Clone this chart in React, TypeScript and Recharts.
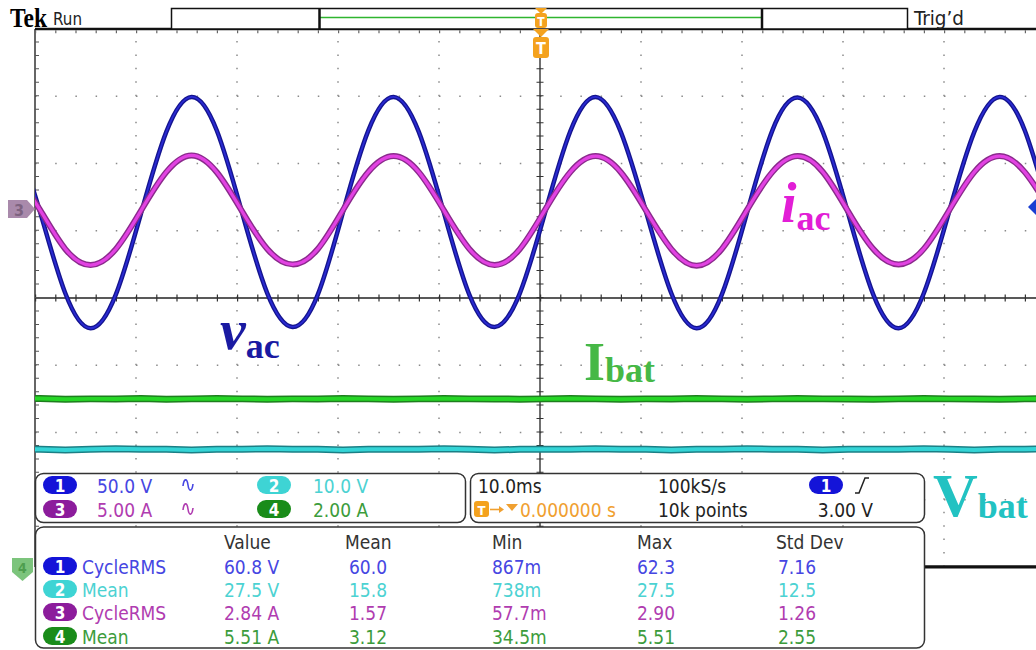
import { LineChart, Line, XAxis, YAxis, ReferenceLine } from "recharts";

// samples every 2.5 ms across the 100 ms screen (10 ms/div)
const timeMs = [
  -52, -49.5, -47, -44.5, -42, -39.5, -37, -34.5, -32, -29.5, -27, -24.5, -22, -19.5, -17, -14.5,
  -12, -9.5, -7, -4.5, -2, 0.5, 3, 5.5, 8, 10.5, 13, 15.5, 18, 20.5, 23, 25.5, 28, 30.5, 33, 35.5,
  38, 40.5, 43, 45.5, 48, 50.5, 53,
];

// ch1 vac (V)
const vac = [
  60, 0.5, -60, -86, -61, -0.5, 60, 86, 61, 0, -60, -85, -61, 0.5, 61, 86, 60, -0.5, -61, -85, -60,
  0, 60.5, 86, 60, 0.5, -60, -86, -61, 0, 61, 85.5, 60, -0.5, -61, -86, -60, 0.5, 60, 86, 61, 0, -60,
];

// ch3 iac (A)
const iac = [
  2.85, 0.05, -2.86, -4.05, -2.87, 0, 2.86, 4.1, 2.85, -0.05, -2.86, -4.0, -2.86, 0.05, 2.87, 4.05,
  2.86, 0, -2.85, -4.05, -2.86, 0.05, 2.86, 4.05, 2.85, 0, -2.86, -4.1, -2.86, 0.05, 2.86, 4.05,
  2.87, -0.05, -2.86, -4.0, -2.85, 0, 2.86, 4.05, 2.86, 0.05, -2.86,
];

// ch4 Ibat (A)
const ibat = [
  5.51, 5.52, 5.5, 5.51, 5.51, 5.52, 5.5, 5.51, 5.52, 5.51, 5.5, 5.51, 5.51, 5.52, 5.51, 5.5, 5.51,
  5.52, 5.51, 5.51, 5.5, 5.51, 5.52, 5.51, 5.5, 5.51, 5.51, 5.52, 5.51, 5.5, 5.51, 5.52, 5.51, 5.51,
  5.5, 5.51, 5.52, 5.51, 5.51, 5.5, 5.51, 5.52, 5.51,
];

// ch2 Vbat (V)
const vbat = [
  27.5, 27.5, 27.4, 27.5, 27.6, 27.5, 27.5, 27.4, 27.5, 27.5, 27.6, 27.5, 27.5, 27.4, 27.5, 27.5,
  27.5, 27.6, 27.5, 27.4, 27.5, 27.5, 27.5, 27.6, 27.5, 27.5, 27.4, 27.5, 27.5, 27.6, 27.5, 27.5,
  27.4, 27.5, 27.5, 27.5, 27.6, 27.5, 27.4, 27.5, 27.5, 27.6, 27.5,
];

// scale (units/div) and trace position (div from centre)
const ch1 = { perDiv: 50, offset: 1.27 };
const ch2 = { perDiv: 10, offset: -5.0 };
const ch3 = { perDiv: 5, offset: 1.3 };
const ch4 = { perDiv: 2, offset: -4.255 };

const data = timeMs.map((t, i) => ({
  t,
  v1: vac[i] / ch1.perDiv + ch1.offset,
  v3: iac[i] / ch3.perDiv + ch3.offset,
  v4: ibat[i] / ch4.perDiv + ch4.offset,
  v2: vbat[i] / ch2.perDiv + ch2.offset,
}));

const gridX = [-40, -30, -20, -10, 10, 20, 30, 40];
const gridY = [-3, -2, -1, 1, 2, 3];

// readouts
const measNames = ["CycleRMS", "Mean", "CycleRMS", "Mean"];
const measValue = ["60.8 V", "27.5 V", "2.84 A", "5.51 A"];
const measMean = ["60.0", "15.8", "1.57", "3.12"];
const measMin = ["867m", "738m", "57.7m", "34.5m"];
const measMax = ["62.3", "27.5", "2.90", "5.51"];
const measStd = ["7.16", "12.5", "1.26", "2.55"];
const measChan = ["1", "2", "3", "4"];

const FONT = "'DejaVu Sans Condensed', 'Liberation Sans Narrow', 'Open Sans', sans-serif";
const SERIF = "'Liberation Serif', 'DejaVu Serif', serif";

const pillFill: Record<string, string> = { "1": "#1414d8", "2": "#3ed4d4", "3": "#8c1c9c", "4": "#1a8c1a" };
const textFill: Record<string, string> = { "1": "#4646e2", "2": "#4cd2d2", "3": "#b03cb0", "4": "#3c9c3c" };

function Pill({ x, cy, ch }: { x: number; cy: number; ch: string }) {
  return (
    <g>
      <rect x={x} y={cy - 9} width={34} height={18} rx={9} fill={pillFill[ch]} />
      <text x={x + 17} y={cy + 1} fill="#fff" fontFamily={FONT} fontSize={17} fontWeight="bold" textAnchor="middle" dominantBaseline="central">
        {ch}
      </text>
    </g>
  );
}

function T({ x, y, w, h, fs }: { x: number; y: number; w: number; h: number; fs: number }) {
  return (
    <g>
      <rect x={x} y={y} width={w} height={h} rx={3} fill="#f4a21e" />
      <text x={x + w / 2} y={y + h / 2 + 1} fill="#fff" fontFamily={FONT} fontWeight="bold" fontSize={fs} textAnchor="middle" dominantBaseline="central">
        T
      </text>
    </g>
  );
}

function Wave({ x, y, color }: { x: number; y: number; color: string }) {
  return <path d={`M${x} ${y + 1} C${x + 1} ${y - 7} ${x + 4} ${y - 7} ${x + 5} ${y} S${x + 9} ${y + 7} ${x + 10} ${y - 1}`} fill="none" stroke={color} strokeWidth={1.6} />;
}

function Overlay() {
  const rowsY = [566, 589, 612, 636];
  return (
    <svg width={1036} height={650} style={{ position: "absolute", left: 0, top: 0, pointerEvents: "none" }}>
      {/* header */}
      <text x={10} y={27} fontFamily={SERIF} fontWeight="bold" fontSize={27} textLength={37} lengthAdjust="spacingAndGlyphs">Tek</text>
      <text x={53} y={25} fontFamily={FONT} fontSize={18} fill="#222" textLength={29} lengthAdjust="spacingAndGlyphs">Run</text>
      <rect x={171.5} y={8.5} width={736} height={20.5} fill="#fff" stroke="#111" strokeWidth={1.5} />
      <line x1={320} x2={762} y1={17.5} y2={17.5} stroke="#2fb52f" strokeWidth={1.5} />
      <line x1={319.5} x2={319.5} y1={9} y2={29} stroke="#111" strokeWidth={2.5} />
      <line x1={762} x2={762} y1={9} y2={29} stroke="#111" strokeWidth={2.5} />
      <text x={914} y={25} fontFamily={FONT} fontSize={19} fill="#222" textLength={50} lengthAdjust="spacingAndGlyphs">Trig’d</text>
      <polygon points="535,8 547,8 541,14" fill="#f4a21e" />
      <T x={535} y={13} w={12} h={15} fs={12} />
      <polygon points="533,29 549,29 541,37" fill="#f4a21e" />
      <T x={533} y={37} w={16} h={21} fs={16} />

      {/* channel markers */}
      <polygon points="8,200 27,200 35,209 27,218 8,218" fill="#a98aab" />
      <text x={19} y={210} fill="#7d6380" fontFamily={FONT} fontSize={16} fontWeight="bold" textAnchor="middle" dominantBaseline="central">3</text>
      <polygon points="1028,207 1036,199 1044,207 1036,215" fill="#1a3ed2" />

      {/* trace labels */}
      <text x={220} y={349} fill="#1a1aa2" fontFamily={SERIF} fontWeight="bold">
        <tspan fontStyle="italic" fontSize={58}>v</tspan>
        <tspan fontSize={36} dy={9}>ac</tspan>
      </text>
      <text x={781} y={222} fill="#e21ed6" fontFamily={SERIF} fontWeight="bold">
        <tspan fontStyle="italic" fontSize={56}>i</tspan>
        <tspan fontSize={36} dy={8}>ac</tspan>
      </text>
      <text x={584} y={380} fill="#46b846" fontFamily={SERIF} fontWeight="bold">
        <tspan fontSize={54}>I</tspan>
        <tspan fontSize={36} dy={2}>bat</tspan>
      </text>

      {/* lower-right corner of the graticule */}
      <rect x={925} y={567} width={111} height={83} fill="#fff" />
      <line x1={925} x2={1036} y1={567} y2={567} stroke="#111" strokeWidth={3} />
      <text x={933} y={516} fill="#22c2c2" fontFamily={SERIF} fontWeight="bold">
        <tspan fontSize={62}>V</tspan>
        <tspan fontSize={36} dy={2}>bat</tspan>
      </text>
      <polygon points="12,558 33,558 33,572 22.5,581 12,572" fill="#7cc47c" />
      <text x={22.5} y={568} fill="#4e9e4e" fontFamily={FONT} fontSize={14} fontWeight="bold" textAnchor="middle" dominantBaseline="central">4</text>

      {/* channel scale box */}
      <rect x={35.5} y={473.5} width={430} height={49} rx={8} fill="#fff" stroke="#333" strokeWidth={1.5} />
      <Pill x={43} cy={485} ch="1" />
      <Pill x={43} cy={509} ch="3" />
      <Pill x={257} cy={485} ch="2" />
      <Pill x={257} cy={509} ch="4" />
      <g fontFamily={FONT} fontSize={19} dominantBaseline="central">
        <text x={97} y={486} fill={textFill["1"]}>50.0 V</text>
        <text x={97} y={510} fill={textFill["3"]}>5.00 A</text>
        <text x={313} y={486} fill={textFill["2"]}>10.0 V</text>
        <text x={313} y={510} fill={textFill["4"]}>2.00 A</text>
      </g>
      <Wave x={183} y={485} color={textFill["1"]} />
      <Wave x={183} y={509} color={textFill["3"]} />

      {/* timebase / trigger box */}
      <rect x={470.5} y={473.5} width={454} height={49} rx={8} fill="#fff" stroke="#333" strokeWidth={1.5} />
      <g fontFamily={FONT} fontSize={19} dominantBaseline="central" fill="#222">
        <text x={478} y={486}>10.0ms</text>
        <text x={658} y={486}>100kS/s</text>
        <text x={658} y={510}>10k points</text>
        <text x={873} y={510} textAnchor="end">3.00 V</text>
        <text x={520} y={510} fill="#f0a030">0.000000 s</text>
      </g>
      <T x={474} y={501} w={15} h={16} fs={13} />
      <path d="M490 509.5 L501 509.5" stroke="#f0a030" strokeWidth={1.6} />
      <polygon points="499,506 504,509.5 499,513" fill="#f0a030" />
      <polygon points="506,504 518,504 512,511" fill="#f0a030" />
      <Pill x={809} cy={485} ch="1" />
      <path d="M855 493 L859 493 L865 478 L869 478" fill="none" stroke="#222" strokeWidth={1.5} />

      {/* measurement box */}
      <rect x={35.5} y={527} width={889} height={121} rx={8} fill="#fff" stroke="#333" strokeWidth={1.5} />
      <g fontFamily={FONT} fontSize={19} dominantBaseline="central" fill="#333">
        <text x={224} y={542}>Value</text>
        <text x={345} y={542}>Mean</text>
        <text x={492} y={542}>Min</text>
        <text x={637} y={542}>Max</text>
        <text x={776} y={542}>Std Dev</text>
      </g>
      {measChan.map((ch, i) => (
        <g key={ch}>
          <Pill x={43} cy={rowsY[i]} ch={ch} />
          <g fontFamily={FONT} fontSize={19} dominantBaseline="central" fill={textFill[ch]}>
            <text x={82} y={rowsY[i] + 1}>{measNames[i]}</text>
            <text x={224} y={rowsY[i] + 1}>{measValue[i]}</text>
            <text x={349} y={rowsY[i] + 1}>{measMean[i]}</text>
            <text x={492} y={rowsY[i] + 1}>{measMin[i]}</text>
            <text x={637} y={rowsY[i] + 1}>{measMax[i]}</text>
            <text x={778} y={rowsY[i] + 1}>{measStd[i]}</text>
          </g>
        </g>
      ))}
    </svg>
  );
}

export default function App() {
  return (
    <div style={{ position: "absolute", left: 0, top: 0, width: 1036, height: 650, overflow: "hidden", background: "#fff" }}>
      <LineChart width={1050} height={650} data={data} margin={{ top: 29, right: 5, bottom: 83, left: 35 }}>
        <XAxis type="number" dataKey="t" domain={[-50, 50]} allowDataOverflow hide />
        <YAxis type="number" domain={[-4, 4]} allowDataOverflow hide />
        {gridX.map((x) => (
          <ReferenceLine key={"gx" + x} x={x} stroke="#8a8a8a" strokeWidth={1.5} strokeDasharray="1.5 11.95" />
        ))}
        {gridY.map((y) => (
          <ReferenceLine key={"gy" + y} y={y} stroke="#8a8a8a" strokeWidth={1.5} strokeDasharray="1.5 18.7" />
        ))}
        <ReferenceLine x={0} stroke="#222" strokeWidth={1.3} />
        <ReferenceLine y={0} stroke="#222" strokeWidth={1.3} />
        <ReferenceLine x={0} stroke="#333" strokeWidth={7} strokeDasharray="1 12.45" />
        <ReferenceLine y={0} stroke="#333" strokeWidth={7} strokeDasharray="1.2 19" />
        <ReferenceLine x={-50} stroke="#333" strokeWidth={1.5} />
        <ReferenceLine x={-49.8} stroke="#555" strokeWidth={4} strokeDasharray="1 12.45" />
        <ReferenceLine y={4} stroke="#111" strokeWidth={2.5} />
        <ReferenceLine y={3.96} stroke="#666" strokeWidth={3} strokeDasharray="1.2 19" />
        <ReferenceLine y={-4} stroke="#111" strokeWidth={3} />

        <Line type="natural" dataKey="v1" stroke="#14148e" strokeWidth={4.5} dot={false} activeDot={false} isAnimationActive={false} />
        <Line type="natural" dataKey="v1" stroke="#2a2ad2" strokeWidth={1.8} dot={false} activeDot={false} isAnimationActive={false} />
        <Line type="natural" dataKey="v3" stroke="#8a2a8c" strokeWidth={6} dot={false} activeDot={false} isAnimationActive={false} />
        <Line type="natural" dataKey="v3" stroke="#e242e2" strokeWidth={3.2} dot={false} activeDot={false} isAnimationActive={false} />
        <Line type="linear" dataKey="v4" stroke="#1e7e1e" strokeWidth={7} dot={false} activeDot={false} isAnimationActive={false} />
        <Line type="linear" dataKey="v4" stroke="#26d626" strokeWidth={4} dot={false} activeDot={false} isAnimationActive={false} />
        <Line type="linear" dataKey="v2" stroke="#1b7f85" strokeWidth={7} dot={false} activeDot={false} isAnimationActive={false} />
        <Line type="linear" dataKey="v2" stroke="#34d4d6" strokeWidth={4} dot={false} activeDot={false} isAnimationActive={false} />
      </LineChart>
      <Overlay />
    </div>
  );
}
